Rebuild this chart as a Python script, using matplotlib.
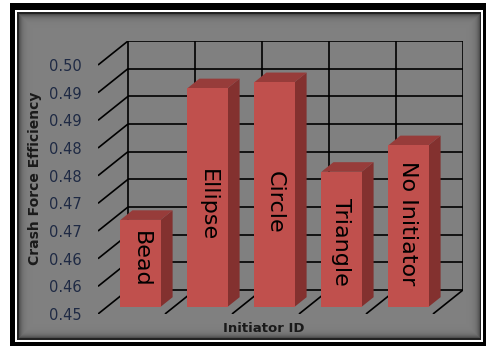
import numpy as np
import matplotlib
matplotlib.use("Agg")
import matplotlib.pyplot as plt
from matplotlib.patches import Rectangle, Polygon

# chart data
initiators = ["Bead", "Ellipse", "Circle", "Triangle", "No Initiator"]
efficiency = [0.4657, 0.4895, 0.4906, 0.4744, 0.4792]
label_y = [0.4599, 0.4696, 0.4702, 0.4630, 0.4664]   # where the names sit inside the bars
y_ticks = [0.450, 0.455, 0.460, 0.465, 0.470, 0.475, 0.480, 0.485, 0.490, 0.495]
y_tick_labels = ["0.45", "0.46", "0.46", "0.47", "0.47", "0.48", "0.48", "0.49", "0.49", "0.50"]

W, H = 488, 349
Y_MIN, Y_MAX = 0.450, 0.495
DX, DY = 0.448, 0.00434          # oblique depth of the chart box (data units)
F0, F1 = 0.30, 0.70              # bar depth range (fraction of box depth)
BAR_W = 0.6

FRONT = "#C0504D"
SIDE = "#83312F"
TOP = "#973C3A"
TEXT_DARK = "#1F2A44"


def fx(px):
    return px / W


def fy(py):
    return 1 - py / H


fig = plt.figure(figsize=(W / 100, H / 100), dpi=100, facecolor="white")

# ─── frame: black border, white line, dark line ─────────────────────────
for (x0, y0, x1, y1, c, z) in [(10, 3, 486, 346, "black", -30),
                                (15, 10, 483, 342, "white", -29),
                                (17, 12, 481, 340, "#222222", -28)]:
    fig.patches.append(Rectangle((fx(x0), fy(y1)), (x1 - x0) / W, (y1 - y0) / H,
                                 transform=fig.transFigure, facecolor=c,
                                 edgecolor="none", zorder=z))

# grey plot area with a soft inner shadow
bg = fig.add_axes([fx(19), fy(338), (480 - 19) / W, (338 - 14) / H], zorder=-5)
rows, cols = 338 - 14, 480 - 19
yy, xx = np.mgrid[0:rows, 0:cols]
d = np.minimum(np.minimum(xx, cols - 1 - xx), np.minimum(yy, rows - 1 - yy))
shade = 128 - 50 * np.exp(-d / 3.0)
bg.imshow(shade, cmap="gray", vmin=0, vmax=255, aspect="auto", interpolation="bilinear")
bg.axis("off")

# ─── main axes (front plane of the 3-D box) ─────────────────────────────
left, right, top, bottom = 98, 463, 41, 314
ax = fig.add_axes([fx(left), fy(bottom), (right - left) / W, (bottom - top) / H])
ax.set_xlim(-0.5, len(initiators) - 0.5 + DX)
ax.set_ylim(Y_MIN, Y_MAX + DY)
ax.patch.set_alpha(0)
for s in ax.spines.values():
    s.set_visible(False)

grid_kw = dict(color="black", linewidth=1.2, zorder=1, solid_capstyle="butt")
n = len(initiators)
# back wall horizontals and left-side diagonals
for t in y_ticks:
    ax.plot([-0.5 + DX, n - 0.5 + DX], [t + DY, t + DY], **grid_kw)
    ax.plot([-0.5, -0.5 + DX], [t, t + DY], **grid_kw)
# back wall verticals and floor diagonals
for k in range(n + 1):
    ax.plot([-0.5 + k + DX] * 2, [Y_MIN + DY, Y_MAX + DY], **grid_kw)
    if k > 0:
        ax.plot([-0.5 + k, -0.5 + k + DX], [Y_MIN, Y_MIN + DY], **grid_kw)

# ─── 3-D columns ────────────────────────────────────────────────────────
x = np.arange(n)
ax.bar(x + F0 * DX, np.array(efficiency) - Y_MIN, bottom=Y_MIN + F0 * DY,
       width=BAR_W, color=FRONT, edgecolor="none", zorder=3)
for xi, v in zip(x, efficiency):
    xl, xr = xi - BAR_W / 2, xi + BAR_W / 2
    side = [(xr + F0 * DX, Y_MIN + F0 * DY), (xr + F1 * DX, Y_MIN + F1 * DY),
            (xr + F1 * DX, v + F1 * DY), (xr + F0 * DX, v + F0 * DY)]
    cap = [(xl + F0 * DX, v + F0 * DY), (xr + F0 * DX, v + F0 * DY),
           (xr + F1 * DX, v + F1 * DY), (xl + F1 * DX, v + F1 * DY)]
    ax.add_patch(Polygon(side, closed=True, facecolor=SIDE, edgecolor="none", zorder=2))
    ax.add_patch(Polygon(cap, closed=True, facecolor=TOP, edgecolor="none", zorder=2))

for xi, name, ly in zip(x, initiators, label_y):
    ax.text(xi + F0 * DX, ly, name, rotation=270, ha="center", va="center",
            fontsize=16, color="black", zorder=4)

# ─── axes text ──────────────────────────────────────────────────────────
ax.set_xticks([])
ax.set_yticks(y_ticks)
ax.set_yticklabels(y_tick_labels)
ax.tick_params(axis="y", length=0, pad=12, labelsize=10.5, labelcolor=TEXT_DARK)

fig.text(fx(35), fy(178), "Crash Force Efficiency", rotation=90, ha="center",
         va="center", fontsize=10, fontweight="bold", color="#1a1a1a")
fig.text(fx(264), fy(329), "Initiator ID", ha="center", va="center",
         fontsize=9.5, fontweight="bold", color="#1a1a1a")

fig.savefig("out.png", dpi=100, facecolor="white")
